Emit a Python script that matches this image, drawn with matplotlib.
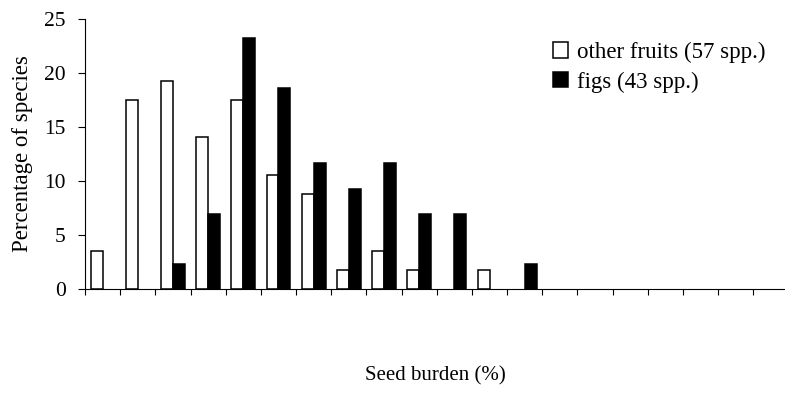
import matplotlib
matplotlib.use("Agg")
import matplotlib.pyplot as plt
import numpy as np
from matplotlib.patches import Patch

plt.rcParams['font.family'] = ['Liberation Serif', 'DejaVu Serif']

# Data: percentage of species per seed-burden class (20 classes)
classes = list(range(20))
other_fruits = [3.51, 17.54, 19.30, 14.04, 17.54, 10.53, 8.77, 1.75, 3.51, 1.75,
                0, 1.75, 0, 0, 0, 0, 0, 0, 0, 0]
figs = [0, 0, 2.33, 6.98, 23.26, 18.60, 11.63, 9.30, 11.63, 6.98,
        6.98, 0, 2.33, 0, 0, 0, 0, 0, 0, 0]
labels = ["other fruits (57 spp.)", "figs (43 spp.)"]
yticks = [0, 5, 10, 15, 20, 25]

fig = plt.figure(figsize=(7.85, 4.11), dpi=100)
ax = fig.add_axes([85/785, 122/411, 700/785, 270/411])

x = np.array(classes) + 0.5
w = 0.34
lw_o = [1.1 if v > 0 else 0 for v in other_fruits]
lw_f = [1.1 if v > 0 else 0 for v in figs]
ax.bar(x - w/2, other_fruits, width=w, color='white', edgecolor='black', linewidth=lw_o)
ax.bar(x + w/2, figs, width=w, color='black', edgecolor='black', linewidth=lw_f)

ax.set_xlim(0, 19.9)
ax.set_ylim(0, 25)
ax.set_yticks(yticks)
ax.set_xticks(np.arange(0, 20))
ax.set_xticklabels([])
ax.tick_params(axis='y', labelsize=15.5, length=5, width=0.8, direction='out', pad=9)
ax.tick_params(axis='x', length=4, width=0.8, direction='out')
for s in ['top', 'right']:
    ax.spines[s].set_visible(False)
for s in ['left', 'bottom']:
    ax.spines[s].set_linewidth(0.8)

ax.set_ylabel("Percentage of species", fontsize=16.5, labelpad=8)
fig.text(435/785, 1 - 376/411, "Seed burden (%)", ha='center', va='center', fontsize=15)

handles = [Patch(facecolor='white', edgecolor='black', linewidth=1.1),
           Patch(facecolor='black', edgecolor='black', linewidth=1.1)]
fig.legend(handles, labels, loc='upper left', bbox_to_anchor=(553/785, 1 - 42/411),
           frameon=False, fontsize=16.5, handlelength=0.65, handleheight=0.65,
           handletextpad=0.4, labelspacing=0.36, borderaxespad=0, borderpad=0)

fig.savefig("out.png", dpi=100)
